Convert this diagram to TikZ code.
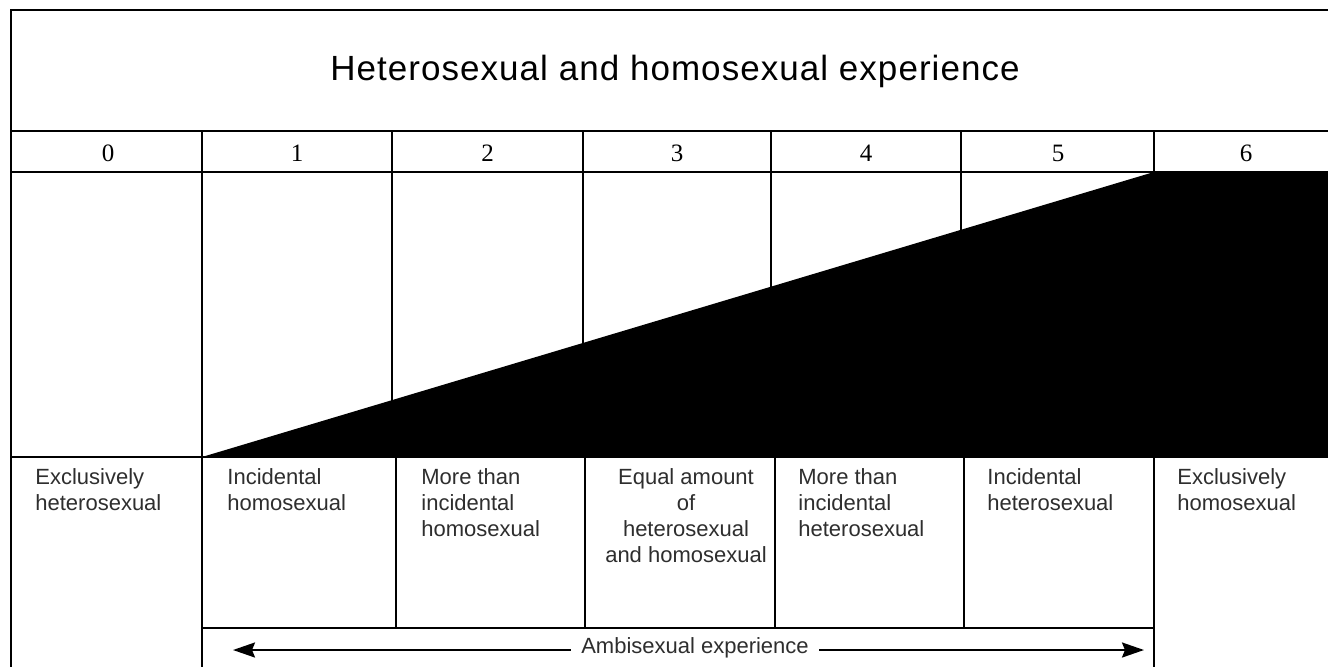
\documentclass[tikz,border=0pt]{standalone}
\usepackage{fontspec}
\setmainfont{Liberation Sans}
\newfontfamily\numfont{Liberation Serif}
\newfontfamily\titlefont[LetterSpace=3]{Liberation Sans}
\usetikzlibrary{arrows.meta}
\begin{document}
\begin{tikzpicture}[x=0.5pt,y=-0.5pt,
  rule/.style={line width=1.4pt, line cap=rect},
  lab/.style={anchor=north west, align=left, inner sep=0pt, text=black!82,
    font=\fontsize{11}{13}\selectfont},
  labc/.style={anchor=north, align=center, inner sep=0pt, text=black!82,
    font=\fontsize{11}{13}\selectfont},
  num/.style={inner sep=0pt, font=\numfont\fontsize{12.5}{14}\selectfont},
  ambi/.style={line width=1.1pt, {Stealth[length=11pt,width=7.5pt,inset=1.5pt]}-{Stealth[length=11pt,width=7.5pt,inset=1.5pt]}}]
\useasboundingbox (0,0) rectangle (1328,666);
\clip (0,0) rectangle (1328,666);
\fill[white] (0,0) rectangle (1328,666);

% upper grid
\draw[rule] (11,10) -- (1345,10);
\draw[rule] (11,131) -- (1345,131);
\draw[rule] (11,172) -- (1345,172);
\draw[rule] (11,457) -- (1345,457);
\draw[rule] (11,10) -- (11,680);
\draw[rule] (202,131) -- (202,680);
\foreach \x in {392,583,771,961} \draw[rule] (\x,131) -- (\x,457);
\draw[rule] (1154,131) -- (1154,172);

% black wedge
\fill[black] (202,457) -- (1154,172) -- (1345,172) -- (1345,457) -- cycle;

% lower grid
\foreach \x in {396,585,775,964} \draw[rule] (\x,457) -- (\x,628);
\draw[rule] (202,628) -- (1154,628);
\draw[rule] (1154,457) -- (1154,680);

% title
\node[inner sep=0pt, font=\titlefont\fontsize{17.5}{20}\selectfont] (title) at (675,71) {Heterosexual and homosexual experience};

% numbers
\node[num] (n0) at (108,153) {0};
\node[num] (n1) at (297,153) {1};
\node[num] (n2) at (487.5,153) {2};
\node[num] (n3) at (677,153) {3};
\node[num] (n4) at (866,153) {4};
\node[num] (n5) at (1058,153) {5};
\node[num] (n6) at (1246,153) {6};

% labels
\node[lab] (l0) at (35,468) {Exclusively\\heterosexual};
\node[lab] (l1) at (227,468) {Incidental\\homosexual};
\node[lab] (l2) at (421,468) {More than\\incidental\\homosexual};
\node[labc] (l3) at (686,468) {Equal amount\\of\\heterosexual\\and homosexual};
\node[lab] (l4) at (798,468) {More than\\incidental\\heterosexual};
\node[lab] (l5) at (987,468) {Incidental\\heterosexual};
\node[lab] (l6) at (1177,468) {Exclusively\\homosexual};

% ambisexual arrow
\coordinate (aL) at (233,650);
\coordinate (aR) at (1144,650);
\draw[ambi] (aL) -- (aR);
\node[fill=white, inner xsep=5pt, inner ysep=1pt, text=black!82, font=\fontsize{11}{13}\selectfont] (amb) at (695,648) {Ambisexual experience};
\end{tikzpicture}
\end{document}
